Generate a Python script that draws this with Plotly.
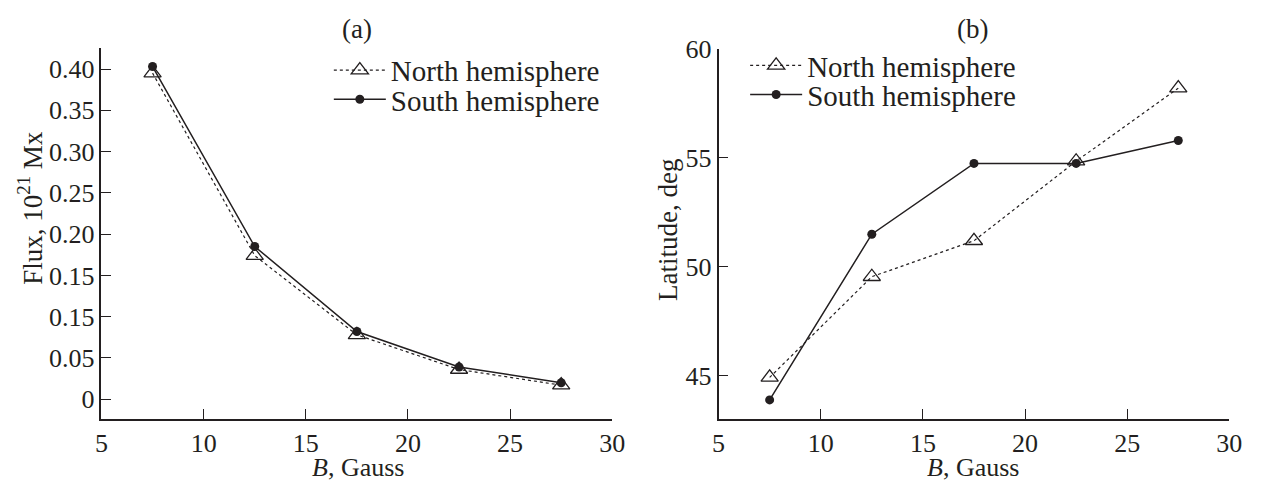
import plotly.graph_objects as go

# ---- data ----
b_field = [7.5, 12.5, 17.5, 22.5, 27.5]
flux_north = [0.395, 0.174, 0.078, 0.036, 0.017]
flux_south = [0.403, 0.185, 0.082, 0.039, 0.020]
lat_north = [44.93, 49.55, 51.2, 54.85, 58.2]
lat_south = [43.9, 51.5, 54.75, 54.75, 55.8]

x_ticks = [5, 10, 15, 20, 25, 30]
flux_tickvals = [0, 0.05, 0.10, 0.15, 0.20, 0.25, 0.30, 0.35, 0.40]
flux_ticktext = ["0", "0.05", "0.15", "0.15", "0.20", "0.25", "0.30", "0.35", "0.40"]
lat_ticks = [45, 50, 55, 60]

W, H = 1265, 483
FONT = "Liberation Serif"
INK = "#231f20"
FS_TICK = 26
FS_TITLE = 26
FS_LEG = 29

def dom_x(a, b):
    return [a / W, b / W]

def dom_y(top, bottom):
    return [1 - bottom / H, 1 - top / H]

north_style = dict(mode="lines+markers",
                   line=dict(color=INK, width=1.2, dash="dot"),
                   marker=dict(symbol="triangle-up-open", size=15, color=INK,
                               line=dict(width=1.3, color=INK)))
south_style = dict(mode="lines+markers",
                   line=dict(color=INK, width=1.5),
                   marker=dict(symbol="circle", size=9, color=INK))

fig = go.Figure()
fig.add_trace(go.Scatter(x=b_field, y=flux_north, name="North hemisphere",
                         xaxis="x", yaxis="y", legend="legend", showlegend=True,
                         **north_style))
fig.add_trace(go.Scatter(x=b_field, y=flux_south, name="South hemisphere",
                         xaxis="x", yaxis="y", legend="legend2", showlegend=True,
                         **south_style))
fig.add_trace(go.Scatter(x=b_field, y=lat_north, name="North hemisphere",
                         xaxis="x2", yaxis="y2", legend="legend3", showlegend=True,
                         **north_style))
fig.add_trace(go.Scatter(x=b_field, y=lat_south, name="South hemisphere",
                         xaxis="x2", yaxis="y2", legend="legend4", showlegend=True,
                         **south_style))

axis_common = dict(showline=True, linecolor=INK, linewidth=1.5, ticks="inside",
                   ticklen=10, tickwidth=1.3, tickcolor=INK, showgrid=False,
                   zeroline=False, mirror=False,
                   tickfont=dict(family=FONT, size=FS_TICK, color=INK))

title_font = dict(family=FONT, size=FS_TITLE, color=INK)

def legend_at(x, y):
    return dict(x=x / W, y=1 - y / H, xanchor="left", yanchor="middle",
                bgcolor="rgba(0,0,0,0)", borderwidth=0, itemwidth=52,
                visible=True,
                font=dict(family=FONT, size=FS_LEG, color=INK))

def label(text, x, y, angle=0, size=FS_TITLE):
    return dict(text=text, x=x / W, y=1 - y / H, xref="paper", yref="paper",
                showarrow=False, xanchor="center", yanchor="middle",
                textangle=angle, font=dict(family=FONT, size=size, color=INK))

fig.update_layout(
    width=W, height=H,
    showlegend=True,
    margin=dict(l=0, r=0, t=0, b=0),
    paper_bgcolor="white", plot_bgcolor="white",
    font=dict(family=FONT, size=FS_TICK, color=INK),
    xaxis=dict(domain=dom_x(96, 615), range=[5, 30], tickvals=x_ticks,
               anchor="y", **axis_common),
    yaxis=dict(domain=dom_y(35, 416.7), range=[-0.0235, 0.4255],
               tickvals=flux_tickvals, ticktext=flux_ticktext, anchor="x",
               **axis_common),
    xaxis2=dict(domain=dom_x(723, 1242), range=[5, 30], tickvals=x_ticks,
                anchor="y2", **axis_common),
    yaxis2=dict(domain=dom_y(36, 416.7), range=[43.04, 60],
                tickvals=lat_ticks, anchor="x2", **axis_common),
    legend=legend_at(327, 58),
    legend2=legend_at(327, 88),
    legend3=legend_at(750, 53),
    legend4=legend_at(750, 83),
    annotations=[
        label("(a)", 356, 15, size=27),
        label("(b)", 981, 15, size=27),
        label("<i>B</i>, Gauss", 357, 467),
        label("<i>B</i>, Gauss", 982, 467),
        label("Flux, 10<sup>21</sup> Mx", 24, 200, -90, 27),
        label("Latitude, deg", 671, 222, -90, 27),
    ],
)

fig.write_html("out.html")
